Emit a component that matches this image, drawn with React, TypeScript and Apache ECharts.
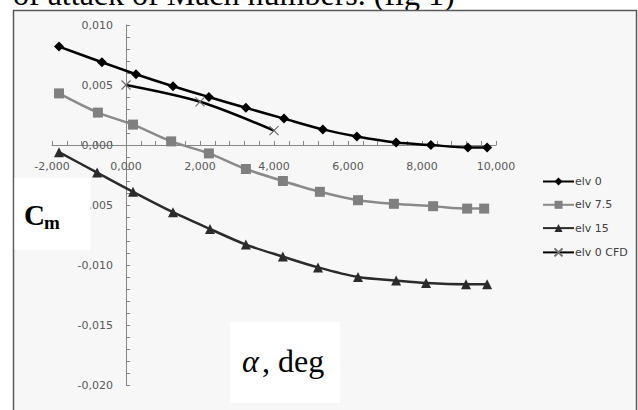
import React, { useEffect, useRef } from "react";
import * as echarts from "echarts";

// Pitching moment coefficient vs angle of attack, per elevator deflection
const alphaElv0 = [-1.81, -0.65, 0.27, 1.27, 2.24, 3.24, 4.27, 5.32, 6.24, 7.3, 8.24, 9.24, 9.76];
const cmElv0 = [0.0082, 0.0069, 0.0059, 0.0049, 0.004, 0.0031, 0.0022, 0.0013, 0.0007, 0.0002, 0.0, -0.0002, -0.0002];

const alphaElv75 = [-1.81, -0.76, 0.19, 1.22, 2.24, 3.24, 4.24, 5.24, 6.27, 7.24, 8.3, 9.22, 9.68];
const cmElv75 = [0.0043, 0.0027, 0.0017, 0.0003, -0.0007, -0.002, -0.003, -0.0039, -0.0046, -0.0049, -0.0051, -0.0053, -0.0053];

const alphaElv15 = [-1.81, -0.78, 0.19, 1.27, 2.27, 3.24, 4.24, 5.19, 6.27, 7.3, 8.11, 9.19, 9.76];
const cmElv15 = [-0.0006, -0.0023, -0.0039, -0.0056, -0.007, -0.0083, -0.0093, -0.0102, -0.011, -0.0113, -0.0115, -0.0116, -0.0116];

const alphaCfd = [0, 2, 4];
const cmCfd = [0.005, 0.0036, 0.0012];

const seriesNames = ["elv 0", "elv 7.5", "elv 15", "elv 0 CFD"];

const X_MIN = -2;
const X_MAX = 10;
const Y_MIN = -0.02;
const Y_MAX = 0.01;

const pairs = (xs: number[], ys: number[]) => xs.map((x, i) => [x, ys[i]]);
const comma3 = (v: number) => v.toFixed(3).replace(".", ",");

const crossPath = "path://M0,0L10,10M10,0L0,10";

// plot area in pixels
const GRID = { left: 52, right: 142, top: 25, bottom: 25 };
const W = 638;
const H = 410;

export default function App() {
  const ref = useRef<HTMLDivElement>(null);

  useEffect(() => {
    if (!ref.current) return;
    const chart = echarts.init(ref.current, null, { renderer: "svg" });
    const axisColor = "#868686";
    const labelFont = { fontFamily: "DejaVu Sans", fontSize: 11, color: "#595959" };

    // axes cross at (0, 0): shift them from the grid edges to the zero lines
    const plotW = W - GRID.left - GRID.right;
    const plotH = H - GRID.top - GRID.bottom;
    const xAxisOffset = -(plotH * (0 - Y_MIN)) / (Y_MAX - Y_MIN);
    const yAxisOffset = -(plotW * (0 - X_MIN)) / (X_MAX - X_MIN);

    chart.setOption({
      animation: false,
      grid: { ...GRID, containLabel: false },
      xAxis: {
        type: "value",
        position: "bottom",
        offset: xAxisOffset,
        min: X_MIN,
        max: X_MAX,
        interval: 2,
        z: 3,
        axisLine: { onZero: false, lineStyle: { color: axisColor, width: 1 } },
        axisTick: { show: true, inside: true, length: 4, lineStyle: { color: axisColor } },
        minorTick: { show: true, splitNumber: 5, length: 4, lineStyle: { color: axisColor } },
        splitLine: { show: false },
        axisLabel: { ...labelFont, margin: 16, formatter: comma3 },
      },
      yAxis: {
        type: "value",
        position: "left",
        offset: yAxisOffset,
        min: Y_MIN,
        max: Y_MAX,
        interval: 0.005,
        z: 3,
        axisLine: { onZero: false, lineStyle: { color: axisColor, width: 1 } },
        axisTick: { show: true, inside: true, length: 4, lineStyle: { color: axisColor } },
        minorTick: { show: true, splitNumber: 5, length: 4, lineStyle: { color: axisColor } },
        splitLine: { show: false },
        axisLabel: { ...labelFont, margin: 13, formatter: comma3 },
      },
      legend: {
        orient: "vertical",
        left: 537,
        top: 171,
        itemWidth: 31,
        itemHeight: 10,
        itemGap: 12.3,
        z: 3,
        textStyle: { fontFamily: "DejaVu Sans", fontSize: 11, color: "#404040", padding: [0, 0, 0, -4] },
        data: seriesNames,
      },
      series: [
        {
          name: seriesNames[0],
          type: "line",
          smooth: 0.3,
          data: pairs(alphaElv0, cmElv0),
          symbol: "diamond",
          symbolSize: 10,
          lineStyle: { color: "#000", width: 2.5 },
          itemStyle: { color: "#000" },
          z: 5,
        },
        {
          name: seriesNames[1],
          type: "line",
          smooth: 0.3,
          data: pairs(alphaElv75, cmElv75),
          symbol: "rect",
          symbolSize: 10,
          lineStyle: { color: "#8a8a8a", width: 2.5 },
          itemStyle: { color: "#808080" },
          z: 4,
        },
        {
          name: seriesNames[2],
          type: "line",
          smooth: 0.3,
          data: pairs(alphaElv15, cmElv15),
          symbol: "triangle",
          symbolSize: 10,
          lineStyle: { color: "#2b2b2b", width: 2.5 },
          itemStyle: { color: "#2b2b2b" },
          z: 3,
        },
        {
          name: seriesNames[3],
          type: "line",
          smooth: 0.3,
          data: pairs(alphaCfd, cmCfd),
          symbol: crossPath,
          symbolSize: 9,
          lineStyle: { color: "#000", width: 2.5 },
          itemStyle: { color: "none", borderColor: "#6f6f6f", borderWidth: 1.2 },
          z: 6,
        },
      ],
      graphic: [
        {
          type: "text",
          z: 0,
          left: 13,
          top: -22,
          style: {
            text: "of attack of Mach numbers. (fig 1)",
            font: "32px 'Liberation Serif'",
            fill: "#000",
          },
        },
        {
          type: "rect",
          z: 1,
          shape: { x: 13.5, y: 10.5, width: 623, height: 420 },
          style: { fill: "#f7f7f7", stroke: "#5a5a5a", lineWidth: 1.5 },
        },
        {
          type: "rect",
          z: 100,
          shape: { x: 14.5, y: 178, width: 76, height: 72 },
          style: { fill: "#ffffff" },
        },
        {
          type: "text",
          z: 101,
          x: 24,
          y: 215,
          style: {
            text: "C",
            font: "bold 29px 'Liberation Serif'",
            fill: "#000",
            verticalAlign: "middle",
          },
        },
        {
          type: "text",
          z: 101,
          x: 44,
          y: 222.5,
          style: {
            text: "m",
            font: "bold 19px 'Liberation Serif'",
            fill: "#000",
            verticalAlign: "middle",
          },
        },
        {
          type: "rect",
          z: 100,
          shape: { x: 230, y: 322, width: 110, height: 81 },
          style: { fill: "#ffffff" },
        },
        {
          type: "text",
          z: 101,
          x: 242,
          y: 361,
          style: {
            text: "α",
            font: "italic 32px 'Liberation Serif'",
            fill: "#000",
            verticalAlign: "middle",
          },
        },
        {
          type: "text",
          z: 101,
          x: 262,
          y: 361,
          style: {
            text: ", deg",
            font: "32px 'Liberation Serif'",
            fill: "#000",
            verticalAlign: "middle",
          },
        },
      ],
    });

    return () => chart.dispose();
  }, []);

  return (
    <div
      ref={ref}
      style={{ position: "fixed", left: 0, top: 0, width: W, height: H, background: "#fff" }}
    />
  );
}
